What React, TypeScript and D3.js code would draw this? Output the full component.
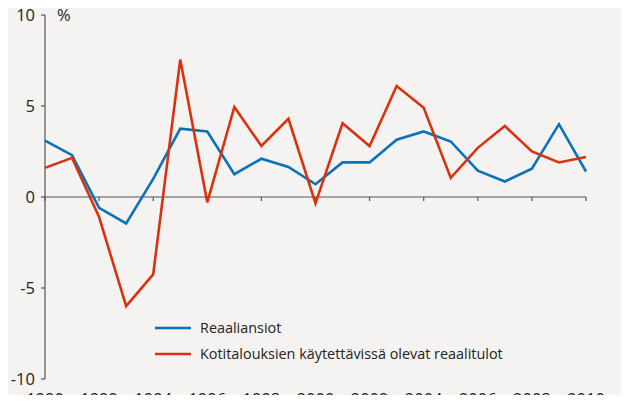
import React, { useEffect, useRef } from "react";
import * as d3 from "d3";

const years = d3.range(1990, 2011);
const reaaliansiot = [3.1, 2.3, -0.6, -1.45, 1.0, 3.75, 3.6, 1.25, 2.1, 1.65, 0.7, 1.9, 1.9, 3.15, 3.6, 3.05, 1.45, 0.85, 1.55, 4.0, 1.4];
const kotitaloudet = [1.6, 2.15, -1.1, -6.0, -4.25, 7.55, -0.3, 4.95, 2.8, 4.3, -0.35, 4.05, 2.8, 6.1, 4.9, 1.05, 2.7, 3.9, 2.5, 1.9, 2.2];
const yTicks = [-10, -5, 0, 5, 10];
const xTicks = [1990, 1992, 1994, 1996, 1998, 2000, 2002, 2004, 2006, 2008, 2010];
const seriesNames = ["Reaaliansiot", "Kotitalouksien käytettävissä olevat reaalitulot"];
const colors = ["#0a72b8", "#d9320e"];

function App() {
    const ref = useRef<SVGSVGElement>(null);
    const width = 629;
    const height = 403;
    const font = "'Open Sans', sans-serif";

    useEffect(() => {
        const svg = d3.select(ref.current);
        svg.selectAll("*").remove();

        svg.append("rect").attr("width", width).attr("height", height).attr("fill", "#f5f3f1");

        const x = d3.scaleLinear().domain([1990, 2010]).range([45, 586]);
        const y = d3.scaleLinear().domain([-10, 10]).range([379, 15]);

        // y axis
        svg.append("line")
            .attr("x1", x(1990)).attr("x2", x(1990))
            .attr("y1", y(10)).attr("y2", y(-10))
            .attr("stroke", "#555").attr("stroke-width", 1.2);
        svg.selectAll(".ytick").data(yTicks).enter().append("line")
            .attr("x1", x(1990) - 4).attr("x2", x(1990))
            .attr("y1", (d) => y(d)).attr("y2", (d) => y(d))
            .attr("stroke", "#555").attr("stroke-width", 1.2);
        svg.selectAll(".ylab").data(yTicks).enter().append("text")
            .attr("x", 35).attr("y", (d) => y(d))
            .attr("dy", "0.35em")
            .attr("text-anchor", "end")
            .style("font-family", font).style("font-size", "16.5px").style("fill", "#222")
            .text((d) => d);
        svg.append("text")
            .attr("x", 57).attr("y", y(10)).attr("dy", "0.35em")
            .style("font-family", font).style("font-size", "16.5px").style("fill", "#222")
            .text("%");

        // x axis at zero
        svg.append("line")
            .attr("x1", x(1990)).attr("x2", x(2010))
            .attr("y1", y(0)).attr("y2", y(0))
            .attr("stroke", "#555").attr("stroke-width", 1.2);
        svg.selectAll(".xtick").data(xTicks).enter().append("line")
            .attr("x1", (d) => x(d)).attr("x2", (d) => x(d))
            .attr("y1", y(0)).attr("y2", y(0) + 4)
            .attr("stroke", "#555").attr("stroke-width", 1.2);
        svg.selectAll(".xlab").data(xTicks).enter().append("text")
            .attr("x", (d) => x(d)).attr("y", 405)
            .attr("text-anchor", "middle")
            .style("font-family", font).style("font-size", "16.5px").style("fill", "#222")
            .text((d) => d);

        const line = d3.line<number>()
            .x((_, i) => x(years[i]))
            .y((d) => y(d));

        [reaaliansiot, kotitaloudet].forEach((s, i) => {
            svg.append("path")
                .datum(s)
                .attr("d", line)
                .attr("fill", "none")
                .attr("stroke", colors[i])
                .attr("stroke-width", 2.6)
                .attr("stroke-linejoin", "miter");
        });

        // legend
        const legend = svg.selectAll(".leg").data(seriesNames).enter().append("g")
            .attr("transform", (_, i) => `translate(155, ${328 + i * 26})`);
        legend.append("line")
            .attr("x1", 0).attr("x2", 36)
            .attr("stroke", (_, i) => colors[i]).attr("stroke-width", 2.6);
        legend.append("text")
            .attr("x", 45).attr("dy", "0.35em")
            .style("font-family", font).style("font-size", "14.4px").style("fill", "#222")
            .text((d) => d);
    }, []);

    return (
        <div style={{ margin: -8 }}>
            <svg ref={ref} width={width} height={height} style={{ display: "block" }} />
        </div>
    );
}

export default App;
